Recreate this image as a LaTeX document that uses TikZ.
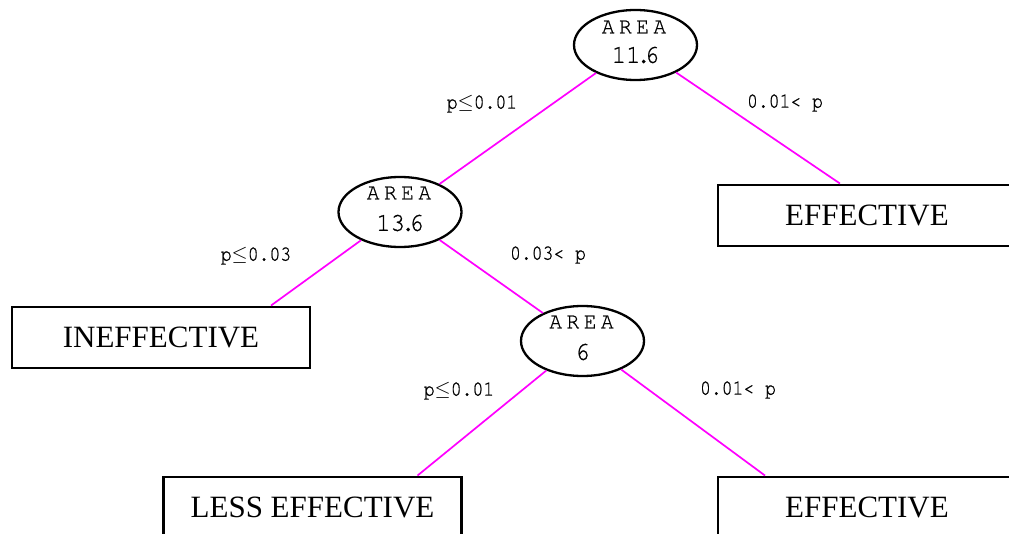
\documentclass[tikz,border=0pt]{standalone}
\usepackage{fontspec}
\setmainfont{Liberation Serif}
\newfontfamily\cursorfont{TeX Gyre Cursor}[FakeStretch=0.84,FakeBold=0.8]
\newfontfamily\cursorwide{TeX Gyre Cursor}[FakeStretch=0.92,FakeBold=0.8]
\usetikzlibrary{shapes.geometric}
\definecolor{branchpink}{RGB}{255,0,255}
\newcommand{\lessq}{\ensuremath{\le}}
\newcommand{\spaced}[4]{#1\kern4.5pt#2\kern4.5pt#3\kern4.5pt#4}
\begin{document}
\begin{tikzpicture}[x=1pt,y=-1pt,
  split/.style={draw=black,line width=2.3pt,ellipse,minimum width=123pt,minimum height=70pt,inner sep=0pt},
  leaf/.style={draw=black,line width=2.9pt,rectangle,minimum width=298pt,minimum height=61pt,inner sep=0pt,font=\fontsize{31}{31}\selectfont},
  branch/.style={draw=branchpink,line width=1.7pt},
  cond/.style={font=\cursorfont\fontsize{21.5}{21.5}\selectfont,inner sep=0pt},
  var/.style={font=\cursorwide\fontsize{23}{23}\selectfont,inner sep=0pt},
  val/.style={font=\cursorwide\fontsize{26}{26}\selectfont,inner sep=0pt}]
\useasboundingbox (0,0) rectangle (1009,534);

% split nodes
\node[split] (n1) at (635.5,45) {};
\node[var] (n1var) at (634,27) {\spaced AREA};
\node[val] (n1val) at (635.5,55) {11\kern-4pt.\kern-6pt6};

\node[split] (n2) at (400,212) {};
\node[var] (n2var) at (399,193) {\spaced AREA};
\node[val] (n2val) at (400,223) {13\kern-4pt.\kern-6pt6};

\node[split] (n3) at (582.5,341) {};
\node[var] (n3var) at (581.5,322) {\spaced AREA};
\node[val] (n3val) at (582.5,352) {6};

% leaves
\node[leaf] (effTop) at (867,215.5) {EFFECTIVE};
\node[leaf] (ineff) at (161,337.5) {INEFFECTIVE};
\node[leaf] (less) at (312.5,507.5) {LESS EFFECTIVE};
\node[leaf] (effBot) at (867,507.5) {EFFECTIVE};

\coordinate (effTopIn) at ([xshift=-27pt]effTop.north);
\coordinate (ineffIn) at ([xshift=110pt]ineff.north);
\coordinate (lessIn) at ([xshift=105pt]less.north);
\coordinate (effBotIn) at ([xshift=-102pt]effBot.north);

% branches
\draw[branch] (n1) -- (n2);
\draw[branch] (n1) -- (effTopIn);
\draw[branch] (n2) -- (ineffIn);
\draw[branch] (n2) -- (n3);
\draw[branch] (n3) -- (lessIn);
\draw[branch] (n3) -- (effBotIn);

% branch conditions
\node[cond] (c1) at (482,104) {p\lessq0.01};
\node[cond] (c2) at (785,103) {0.01< p};
\node[cond] (c3) at (256,256) {p\lessq0.03};
\node[cond] (c4) at (548,255) {0.03< p};
\node[cond] (c5) at (459,391) {p\lessq0.01};
\node[cond] (c6) at (738,390) {0.01< p};
\end{tikzpicture}
\end{document}
